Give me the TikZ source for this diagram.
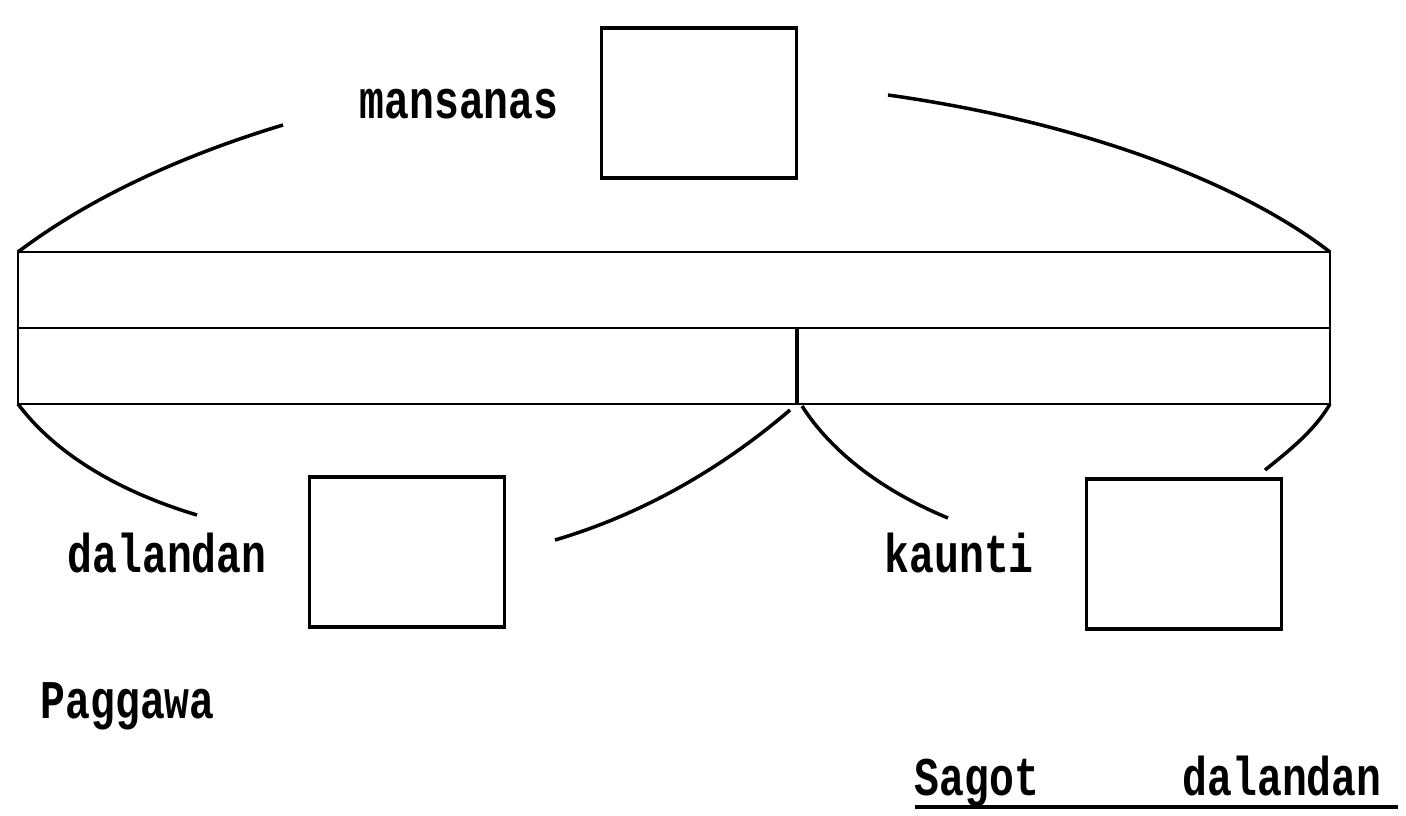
\documentclass[tikz,border=0pt]{standalone}
\usepackage{fontspec}
\setmainfont{Liberation Mono}[FakeStretch=0.76]
\usepackage{tikz}
\usetikzlibrary{positioning, calc}
\tikzstyle{card} = [draw, line width=1pt, minimum width=1.95cm, minimum height=1.5cm, inner sep=0pt]
\tikzstyle{word} = [font=\fontsize{15.5}{18}\selectfont\bfseries, inner sep=0pt, anchor=base west]
\tikzstyle{curve} = [line width=1pt]
\tikzstyle{rail} = [line width=0.8pt]

\begin{document}
\begin{tikzpicture}[x=0.01cm, y=-0.01cm]
    \useasboundingbox (0,0) rectangle (1406,815);

    % Boxes
    \node[card] (box_top) at (699,103) {};
    \node[card] (box_left) at (407,552) {};
    \node[card] (box_right) at (1184,554) {};

    % Labels
    \node[word] (mansanas) at (359,118) {mansanas};
    \node[word] (dalandan) at (67,572) {dalandan};
    \node[word] (kaunti) at (884,572) {kaunti};
    \node[word] (paggawa) at (40,718) {Paggawa};
    \node[word] (sagot) at (914,795) {Sagot};
    \node[word] (sagot_ans) at (1182,795) {dalandan};

    % Bar
    \coordinate (bar_tl) at (18,252);
    \coordinate (bar_tr) at (1330,252);
    \coordinate (bar_ml) at (18,328);
    \coordinate (bar_mr) at (1330,328);
    \coordinate (bar_bl) at (18,404);
    \coordinate (bar_br) at (1330,404);
    \coordinate (bar_mm) at (797,328);
    \coordinate (bar_bm) at (797,404);
    \draw[rail] (bar_tl) rectangle (bar_br);
    \draw[rail] (bar_ml) -- (bar_mr);
    \draw[curve] (bar_mm) -- (bar_bm);

    % Arcs
    \coordinate (tl_end) at (283,125);
    \coordinate (tr_end) at (888,95);
    \coordinate (bl_end) at (197,515);
    \coordinate (bm_end) at (555,540);
    \coordinate (rm_end) at (948,518);
    \coordinate (br_end) at (1265,470);
    \draw[curve] (bar_tl) .. controls (100,190) and (200,150) .. (tl_end);
    \draw[curve] (tr_end) .. controls (1100,125) and (1250,190) .. (bar_tr);
    \draw[curve] (bar_bl) .. controls (60,460) and (130,495) .. (bl_end);
    \draw[curve] (790,410) .. controls (720,470) and (640,515) .. (bm_end);
    \draw[curve] (802,406) .. controls (830,450) and (880,490) .. (rm_end);
    \draw[curve] (bar_br) .. controls (1315,430) and (1290,450) .. (br_end);

    % Answer line
    \coordinate (ul_start) at (915,807);
    \coordinate (ul_end) at (1398,807);
    \draw[curve] (ul_start) -- (ul_end);
\end{tikzpicture}
\end{document}
